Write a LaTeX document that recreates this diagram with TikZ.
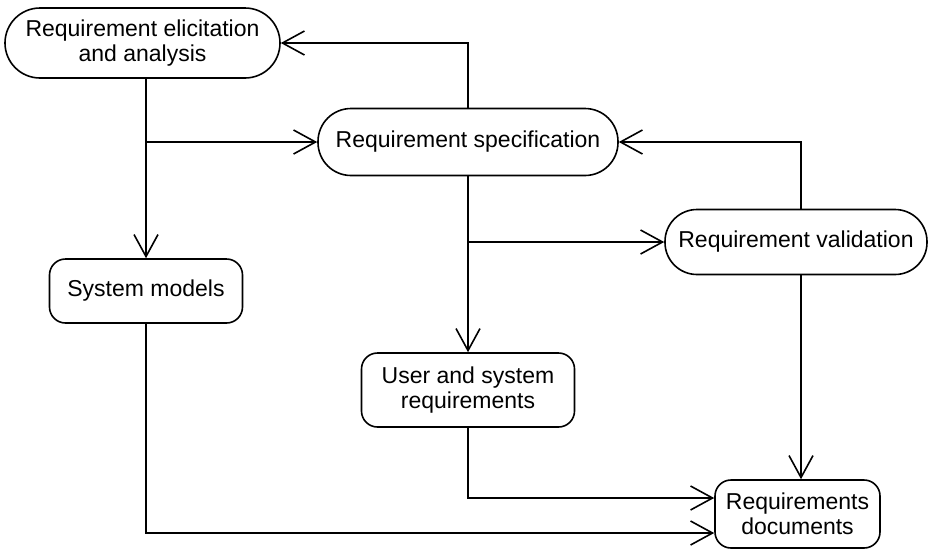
\documentclass[tikz,border=0pt]{standalone}
\usepackage{fontspec}
\setmainfont{Liberation Sans}
\usetikzlibrary{arrows.meta}
\begin{document}
\begin{tikzpicture}[x=1pt,y=-1pt,
  box/.style={draw, line width=1.6pt, align=center, inner sep=0pt,
    font=\fontsize{23}{25.5}\selectfont},
  arr/.style={line width=1.6pt, -{Straight Barb[length=22pt,width=24pt,line width=1.6pt]}}]
\useasboundingbox (0,0) rectangle (929,550);
\node[box, minimum width=275pt, minimum height=70pt, rounded corners=35pt] (A) at (142.5,43) {Requirement elicitation\\and analysis};
\node[box, minimum width=300pt, minimum height=67pt, rounded corners=33pt] (B) at (468,142) {Requirement specification};
\node[box, minimum width=262pt, minimum height=65pt, rounded corners=32pt] (C) at (796,242) {Requirement validation};
\node[box, minimum width=193pt, minimum height=64pt, rounded corners=16pt] (D) at (146,291) {System models};
\node[box, minimum width=213pt, minimum height=74pt, rounded corners=16pt] (E) at (468,390) {User and system\\requirements};
\node[box, minimum width=165pt, minimum height=68pt, rounded corners=16pt] (F) at (797.5,514) {Requirements\\documents};
\coordinate (cv) at (801,0);
\coordinate (j1) at (D.north |- B.west);
\coordinate (j2) at (B.south |- C.west);
\draw[arr] (D.north |- A.south) -- (D.north);
\draw[arr] (j1) -- (B.west);
\draw[arr] (B.north) |- (A.east);
\draw[arr] (B.south) -- (E.north);
\draw[arr] (j2) -- (C.west);
\draw[arr] (C.north -| cv) |- (B.east);
\draw[arr] (C.south -| cv) -- (F.north -| cv);
\draw[arr] (E.south) |- (F.west |- 0,498);
\draw[arr] (D.south) |- (F.west |- 0,533);
\end{tikzpicture}
\end{document}
